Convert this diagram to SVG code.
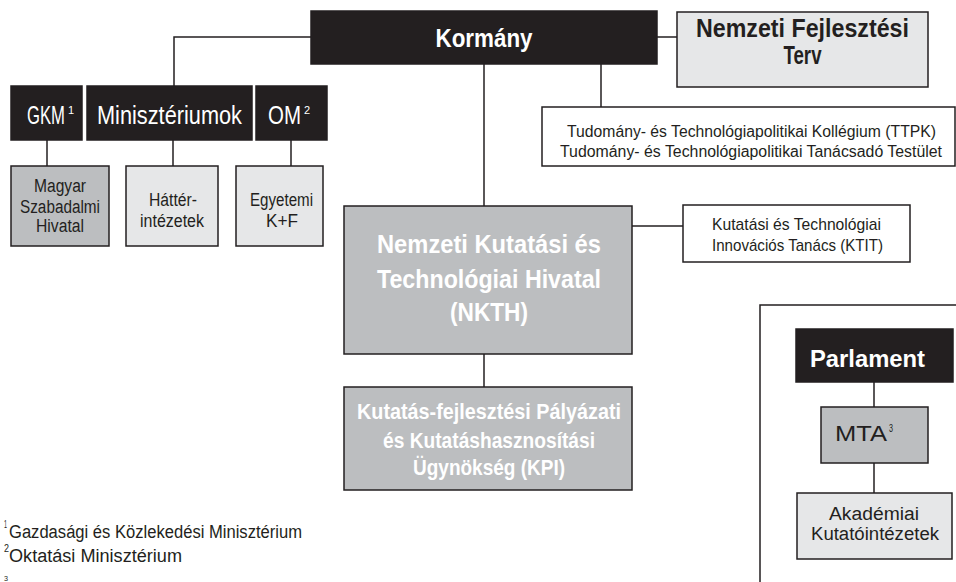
<svg xmlns="http://www.w3.org/2000/svg" width="956" height="582" viewBox="0 0 956 582">
<style>
text{font-family:"Liberation Sans","DejaVu Sans",sans-serif;fill:#231f20}
.b{font-weight:bold}
.w{fill:#ffffff}
.c{text-anchor:middle}
.blk{fill:#231f20;stroke:#231f20;stroke-width:1.5}
.mid{fill:#bcbec0;stroke:#231f20;stroke-width:1.5}
.lt{fill:#e6e7e8;stroke:#231f20;stroke-width:1.5}
.wh{fill:#ffffff;stroke:#231f20;stroke-width:1.5}
.ln{fill:none;stroke:#231f20;stroke-width:1.5}
</style>
<g id="connectors">
<polyline class="ln" points="311,37 174,37 174,86"/>
<line class="ln" x1="657" y1="37" x2="677" y2="37"/>
<line class="ln" x1="601" y1="64" x2="601" y2="107"/>
<line class="ln" x1="484" y1="64" x2="484" y2="206"/>
<line class="ln" x1="484" y1="354" x2="484" y2="387"/>
<line class="ln" x1="632" y1="226" x2="683" y2="226"/>
<line class="ln" x1="47" y1="140" x2="47" y2="166"/>
<line class="ln" x1="173" y1="140" x2="173" y2="166"/>
<line class="ln" x1="291" y1="140" x2="291" y2="166"/>
<line class="ln" x1="874" y1="382" x2="874" y2="407"/>
<line class="ln" x1="874" y1="463" x2="874" y2="493"/>
</g>
<g id="frame">
<polyline class="ln" points="760,582 760,305 956,305"/>
</g>
<g id="kormany">
<rect class="blk" x="311" y="11" width="346" height="53"/>
<text class="b w c" x="484" y="47" font-size="25" textLength="97" lengthAdjust="spacingAndGlyphs">Kormány</text>
</g>
<g id="nft">
<rect class="lt" x="677" y="12" width="251" height="75"/>
<text class="b c" x="802.5" y="37" font-size="25" textLength="213" lengthAdjust="spacingAndGlyphs">Nemzeti Fejlesztési</text>
<text class="b c" x="802.5" y="64" font-size="25" textLength="38" lengthAdjust="spacingAndGlyphs">Terv</text>
</g>
<g id="ttpk">
<rect class="wh" x="542" y="107" width="413" height="59"/>
<text class="c" x="751.5" y="137" font-size="16" textLength="369" lengthAdjust="spacingAndGlyphs">Tudomány- és Technológiapolitikai Kollégium (TTPK)</text>
<text class="c" x="751" y="157" font-size="16" textLength="382" lengthAdjust="spacingAndGlyphs">Tudomány- és Technológiapolitikai Tanácsadó Testület</text>
</g>
<g id="ktit">
<rect class="wh" x="683" y="205" width="227" height="57"/>
<text class="c" x="796.5" y="230" font-size="17" textLength="169" lengthAdjust="spacingAndGlyphs">Kutatási és Technológiai</text>
<text class="c" x="797.5" y="251" font-size="17" textLength="171" lengthAdjust="spacingAndGlyphs">Innovációs Tanács (KTIT)</text>
</g>
<g id="nkth">
<rect class="mid" x="344" y="206" width="288" height="148"/>
<text class="b w c" x="489" y="253" font-size="25" textLength="224" lengthAdjust="spacingAndGlyphs">Nemzeti Kutatási és</text>
<text class="b w c" x="489" y="288" font-size="25" textLength="224" lengthAdjust="spacingAndGlyphs">Technológiai Hivatal</text>
<text class="b w c" x="489" y="321" font-size="25" textLength="78" lengthAdjust="spacingAndGlyphs">(NKTH)</text>
</g>
<g id="kpi">
<rect class="mid" x="344" y="387" width="288" height="103"/>
<text class="b w c" x="489" y="419" font-size="22" textLength="264" lengthAdjust="spacingAndGlyphs">Kutatás-fejlesztési Pályázati</text>
<text class="b w c" x="489" y="448" font-size="22" textLength="212" lengthAdjust="spacingAndGlyphs">és Kutatáshasznosítási</text>
<text class="b w c" x="489" y="475" font-size="22" textLength="152" lengthAdjust="spacingAndGlyphs">Ügynökség (KPI)</text>
</g>
<g id="gkm">
<rect class="blk" x="11" y="86" width="71" height="54"/>
<text class="w" x="27" y="124" font-size="26"><tspan textLength="38" lengthAdjust="spacingAndGlyphs">GKM</tspan><tspan x="68" y="114" font-size="11">1</tspan></text>
</g>
<g id="miniszteriumok">
<rect class="blk" x="87" y="86" width="165" height="54"/>
<text class="w" x="97" y="124" font-size="26" textLength="145" lengthAdjust="spacingAndGlyphs">Minisztériumok</text>
</g>
<g id="om">
<rect class="blk" x="256" y="86" width="71" height="54"/>
<text class="w" x="268" y="124" font-size="26"><tspan textLength="33" lengthAdjust="spacingAndGlyphs">OM</tspan><tspan x="304" y="114" font-size="11">2</tspan></text>
</g>
<g id="msz">
<rect class="mid" x="11" y="166" width="98" height="80"/>
<text class="c" x="60" y="192" font-size="18" textLength="52" lengthAdjust="spacingAndGlyphs">Magyar</text>
<text class="c" x="60" y="213" font-size="18" textLength="80" lengthAdjust="spacingAndGlyphs">Szabadalmi</text>
<text class="c" x="60" y="232" font-size="18" textLength="48" lengthAdjust="spacingAndGlyphs">Hivatal</text>
</g>
<g id="hatter">
<rect class="lt" x="126" y="166" width="92" height="80"/>
<text class="c" x="173" y="206" font-size="18" textLength="48" lengthAdjust="spacingAndGlyphs">Háttér-</text>
<text class="c" x="172" y="227" font-size="18" textLength="64" lengthAdjust="spacingAndGlyphs">intézetek</text>
</g>
<g id="egyetemi">
<rect class="lt" x="236" y="166" width="87" height="80"/>
<text class="c" x="281.5" y="206" font-size="18" textLength="63" lengthAdjust="spacingAndGlyphs">Egyetemi</text>
<text class="c" x="282" y="227" font-size="18" textLength="32" lengthAdjust="spacingAndGlyphs">K+F</text>
</g>
<g id="parlament">
<rect class="blk" x="796" y="329" width="157" height="53"/>
<text class="b w c" x="867.5" y="367" font-size="23" textLength="115" lengthAdjust="spacingAndGlyphs">Parlament</text>
</g>
<g id="mta">
<rect class="mid" x="821" y="407" width="107" height="56"/>
<text x="835" y="441" font-size="22" textLength="52" lengthAdjust="spacingAndGlyphs">MTA</text>
<text x="889" y="432" font-size="11" textLength="4" lengthAdjust="spacingAndGlyphs">3</text>
</g>
<g id="akademiai">
<rect class="lt" x="797" y="493" width="155" height="66"/>
<text class="c" x="874" y="520" font-size="18" textLength="90" lengthAdjust="spacingAndGlyphs">Akadémiai</text>
<text class="c" x="875" y="540" font-size="18" textLength="128" lengthAdjust="spacingAndGlyphs">Kutatóintézetek</text>
</g>
<g id="footnotes">
<text x="4" y="528" font-size="11" textLength="3" lengthAdjust="spacingAndGlyphs">1</text>
<text x="9" y="538" font-size="18" textLength="293" lengthAdjust="spacingAndGlyphs">Gazdasági és Közlekedési Minisztérium</text>
<text x="4" y="552" font-size="11" textLength="5" lengthAdjust="spacingAndGlyphs">2</text>
<text x="9" y="562" font-size="18" textLength="173" lengthAdjust="spacingAndGlyphs">Oktatási Minisztérium</text>
<text x="4" y="581" font-size="8" textLength="4" lengthAdjust="spacingAndGlyphs">3</text>
</g>
</svg>
